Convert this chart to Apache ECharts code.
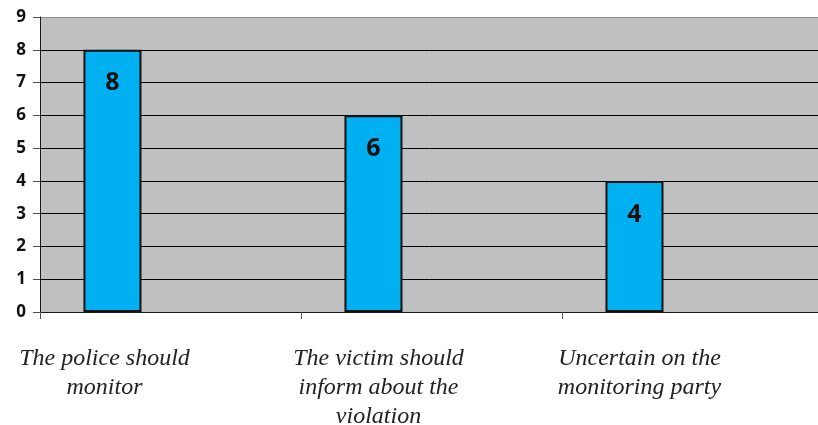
<!DOCTYPE html>
<html>
<head>
<meta charset="utf-8">
<script src="https://cdn.jsdelivr.net/npm/echarts@6/dist/echarts.min.js"></script>
<style>
  html, body { margin: 0; padding: 0; background: #ffffff; }
  #chart { width: 818px; height: 425px; }
</style>
</head>
<body>
<div id="chart"></div>
<script>
// Who should monitor the violation: response counts
const categories = [
  'The police should\nmonitor',
  'The victim should\ninform about the\nviolation',
  'Uncertain on the\nmonitoring party'
];
const responses = [8, 6, 4];
// two empty companion series keep the bar in the left third of each slot
const emptyA = [null, null, null];
const emptyB = [null, null, null];
const yTicks = { min: 0, max: 9, interval: 1 };

const chart = echarts.init(document.getElementById('chart'));

const gridLineColors = ['#000', '#000', '#000', '#000', '#000', '#000', '#000', '#000', '#000', '#8a8a8a'];

// category labels sit left of the slot centre; the first one a little further
const categoryData = categories.map((name, i) => ({
  value: name,
  textStyle: { padding: i === 0 ? [0, 132, 0, 0] : [0, 106, 0, 0] }
}));

chart.setOption({
  animation: false,
  grid: {
    left: 40, top: 17, right: -5, bottom: 113,
    outerBoundsMode: 'none',
    containLabel: false,
    show: true, backgroundColor: '#c0c0c0', borderWidth: 0
  },
  xAxis: {
    type: 'category',
    data: categoryData,
    axisLine: { lineStyle: { color: '#1a1a1a', width: 1 } },
    axisTick: { show: true, length: 7, lineStyle: { color: '#555' } },
    axisLabel: {
      interval: 0,
      hideOverlap: false,
      fontFamily: 'Liberation Serif',
      fontStyle: 'italic',
      fontSize: 24,
      color: '#222',
      lineHeight: 29,
      margin: 32,
      align: 'center'
    }
  },
  yAxis: {
    type: 'value',
    min: yTicks.min,
    max: yTicks.max,
    interval: yTicks.interval,
    axisLine: { show: true, lineStyle: { color: '#1a1a1a', width: 1 } },
    axisTick: { show: true, length: 7, lineStyle: { color: '#555' } },
    axisLabel: {
      fontFamily: 'Open Sans',
      fontWeight: 'bold',
      fontSize: 17,
      color: '#111',
      margin: 14
    },
    splitLine: { show: true, lineStyle: { color: gridLineColors, width: 1 } }
  },
  series: [
    {
      type: 'bar',
      data: responses,
      barGap: '0%',
      barCategoryGap: '33.3%',
      itemStyle: { color: '#00b0f0', borderColor: '#111', borderWidth: 2 },
      label: {
        show: true,
        position: 'insideTop',
        distance: 21,
        fontFamily: 'Open Sans',
        fontWeight: 'bold',
        fontSize: 25,
        color: '#111'
      }
    },
    { type: 'bar', data: emptyA, barGap: '0%', barCategoryGap: '33.3%' },
    { type: 'bar', data: emptyB, barGap: '0%', barCategoryGap: '33.3%' }
  ]
});
</script>
</body>
</html>
